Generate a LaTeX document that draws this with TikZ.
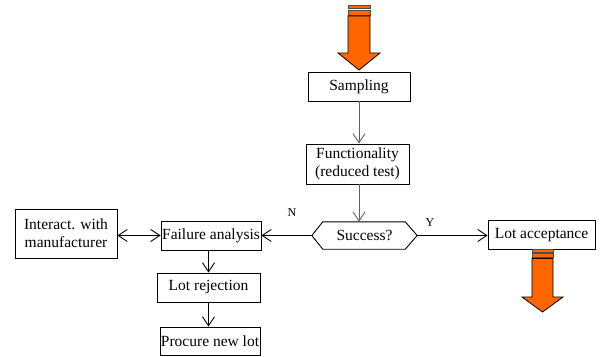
\documentclass[tikz,border=0pt]{standalone}
\usepackage{fontspec}
\setmainfont{Liberation Serif}
\usetikzlibrary{arrows.meta}

\definecolor{flow}{HTML}{FF6600}
\definecolor{lead}{HTML}{606060}

\tikzset{
  box/.style={draw, line width=0.9pt, rectangle, inner sep=0pt, align=center,
    font=\fontsize{15.5}{18}\selectfont},
  tag/.style={font=\fontsize{12}{14}\selectfont, inner sep=0pt},
  link/.style={line width=0.9pt, -{Straight Barb[length=9pt,width=12pt]}},
  biglink/.style={line width=0.9pt, {Straight Barb[length=9pt,width=12pt]}-{Straight Barb[length=9pt,width=12pt]}},
  band/.style={fill=flow, draw=black!70, line width=0.8pt},
  bigarrow/.style={fill=flow, draw=black, line width=0.8pt, line join=miter},
}

\begin{document}
\begin{tikzpicture}[x=1pt, y=-1pt]
\useasboundingbox (0,0) rectangle (601,356);

% process boxes
\node[box, minimum width=102pt, minimum height=29pt] (samp) at (359,86.5) {Sampling};
\node[box, minimum width=103pt, minimum height=40pt] (func) at (357.5,164) {Functionality\\(reduced test)};
\node[minimum width=105pt, minimum height=27pt, inner sep=0pt,
      font=\fontsize{15.5}{18}\selectfont] (succ) at (364.5,235.5) {Success?};
\node[box, minimum width=107pt, minimum height=29pt] (acc) at (541.5,235) {Lot acceptance};
\node[box, minimum width=100pt, minimum height=29pt] (fail) at (211,235.5) {Failure analysis};
\node[box, minimum width=102pt, minimum height=49pt] (inter) at (66,233.5) {Interact. with\\manufacturer};
\node[box, minimum width=103pt, minimum height=29pt] (rej) at (208.5,287.5) {Lot rejection};
\node[box, minimum width=100pt, minimum height=28pt] (proc) at (210,341) {Procure new lot};

% decision hexagon
\draw[line width=0.9pt]
  (succ.west) -- ([xshift=11pt]succ.north west) -- ([xshift=-12pt]succ.north east)
  -- (succ.east) -- ([xshift=-12pt]succ.south east) -- ([xshift=11pt]succ.south west) -- cycle;

% branch labels
\node[tag] (no) at (292,213) {N};
\node[tag] (yes) at (430,223) {Y};

% connectors
\draw[link, lead] (samp.south) -- (samp.south |- func.north);
\draw[link, lead] (samp.south |- func.south) -- (samp.south |- succ.north);
\draw[link] (succ.west) -- (succ.west -| fail.east);
\draw[link] (succ.east) -- (succ.east -| acc.west);
\draw[biglink] (inter.east |- fail.west) -- (fail.west);
\draw[link] (rej.north |- fail.south) -- (rej.north);
\draw[link] (rej.south) -- (rej.south |- proc.north);

% incoming flow arrow
\draw[band] (348,5) rectangle (370,8);
\draw[band] (348,10) rectangle (370,15);
\draw[bigarrow] (348,16) -- (370,16) -- (370,53) -- (380,53) -- (359,70)
  -- (338,53) -- (348,53) -- cycle;

% outgoing flow arrow
\draw[band] (532,249.5) rectangle (553,252);
\draw[band] (532,253.5) rectangle (553,257);
\draw[bigarrow] (532,258.5) -- (553,258.5) -- (553,297) -- (563,297) -- (542.5,312)
  -- (522,297) -- (532,297) -- cycle;
\end{tikzpicture}
\end{document}
